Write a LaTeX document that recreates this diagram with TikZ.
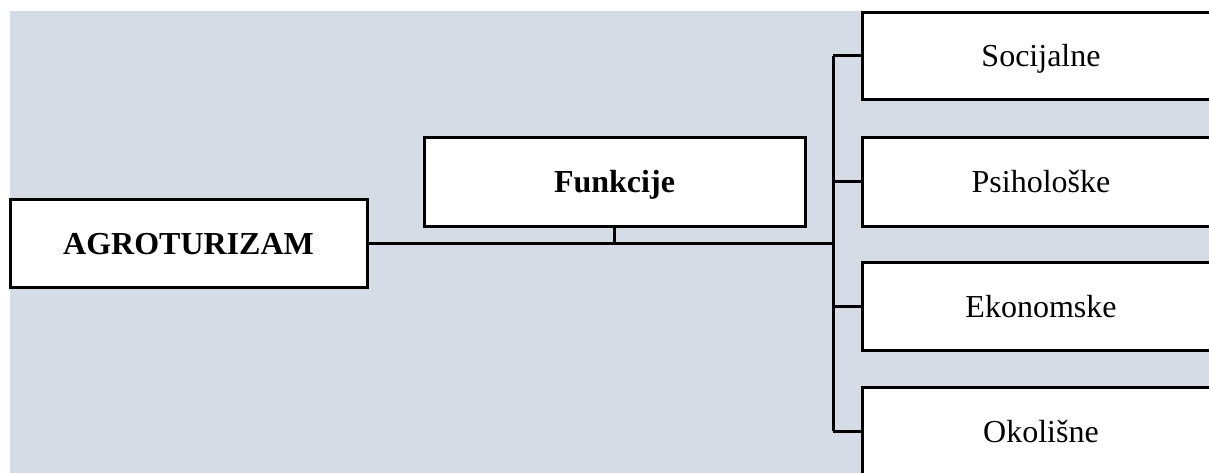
\documentclass[tikz,border=0pt]{standalone}
\usepackage{fontspec}
\setmainfont{Liberation Serif}
\definecolor{bgblue}{HTML}{D5DCE6}
\begin{document}
\begin{tikzpicture}[x=1pt,y=-1pt,
  box/.style={draw=black,fill=white,line width=3pt,inner sep=0pt,align=center,text height=22pt,text depth=0pt,font=\fontsize{32}{38}\selectfont},
  conn/.style={draw=black,line width=3pt}]
\useasboundingbox (0,0) rectangle (1209,472);
\clip (0,0) rectangle (1209,472);
\fill[bgblue] (10,11) rectangle (1215,480);
\node[box,minimum width=357pt,minimum height=88pt,font=\fontsize{32}{38}\selectfont\bfseries] (agro) at (188.5,243) {AGROTURIZAM};
\node[box,minimum width=381pt,minimum height=89pt,font=\fontsize{32}{38}\selectfont\bfseries] (fun) at (614.5,181.5) {Funkcije};
\node[box,minimum width=358pt,minimum height=87pt] (soc) at (1041,55.5) {Socijalne};
\node[box,minimum width=358pt,minimum height=89pt] (psi) at (1041,181.5) {Psihološke};
\node[box,minimum width=358pt,minimum height=88pt] (eko) at (1041,306) {Ekonomske};
\node[box,minimum width=358pt,minimum height=88pt] (oko) at (1041,431) {Okolišne};
\coordinate (bus) at (833,243);
\coordinate (funk) at (fun.south |- bus);
\draw[conn] (agro.east) -- (bus);
\draw[conn,line width=2.4pt] (fun.south) -- (funk);
\draw[conn] (bus |- soc.west) -- (bus |- oko.west);
\draw[conn] (bus |- soc.west) -- (soc.west);
\draw[conn] (bus |- psi.west) -- (psi.west);
\draw[conn] (bus |- eko.west) -- (eko.west);
\draw[conn] (bus |- oko.west) -- (oko.west);
\end{tikzpicture}
\end{document}
